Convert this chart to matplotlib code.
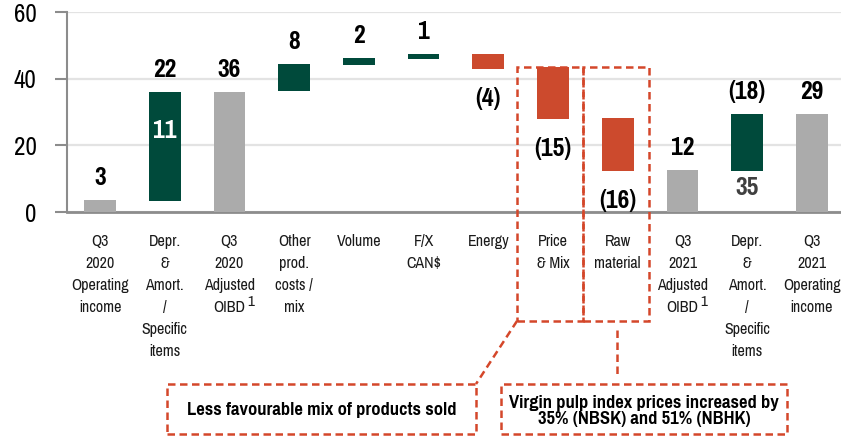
import matplotlib
matplotlib.use("Agg")
import matplotlib.pyplot as plt
from matplotlib.patches import Rectangle
from matplotlib.lines import Line2D
import matplotlib.transforms as mtransforms
from matplotlib import font_manager

names = {f.name for f in font_manager.fontManager.ttflist}
FONT = "Liberation Sans"
for cand in ["Liberation Sans Narrow", "Arial Narrow", "Pragati Narrow", "PT Sans Narrow",
             "Roboto Condensed", "Archivo Narrow"]:
    if cand in names:
        FONT = cand
        break
plt.rcParams['font.family'] = [FONT, 'DejaVu Sans']

# ---------------- data ----------------
categories = ["Q3\n2020\nOperating\nincome", "Depr.\n&\nAmort.\n/\nSpecific\nitems",
              "Q3\n2020\nAdjusted\nOIBD", "Other\nprod.\ncosts /\nmix", "Volume",
              "F/X\nCAN$", "Energy", "Price\n& Mix", "Raw\nmaterial",
              "Q3\n2021\nAdjusted\nOIBD", "Depr.\n&\nAmort.\n/\nSpecific\nitems",
              "Q3\n2021\nOperating\nincome"]
bar_bottom = [0, 3.3, 0, 36.4, 44.1, 45.9, 42.9, 27.9, 12.3, 0, 12.3, 0]
bar_top = [3.6, 36.0, 36.0, 44.4, 46.2, 47.4, 47.4, 43.6, 28.2, 12.6, 29.4, 29.4]
bar_kind = ["total", "up", "total", "up", "up", "up", "down", "down", "down",
            "total", "up", "total"]
value_labels = ["3", "22", "36", "8", "2", "1", "(4)", "(15)", "(16)", "12", "(18)", "29"]
label_side = ["above", "above", "above", "above", "above", "above", "below", "below",
              "below", "above", "above", "above"]
inner_label = {1: ("11", 24.6, "white")}
below_label = {10: ("35", "#404040")}
footnote_idx = [2, 9]
yticks = [0, 20, 40, 60]
note_left = "Less favourable mix of products sold"
note_right = "Virgin pulp index prices increased by\n35% (NBSK) and 51% (NBHK)"

colors = {"total": "#ABABAB", "up": "#004A3B", "down": "#CC4A2D"}
RED = "#D4472A"

W, H = 841, 436
fig = plt.figure(figsize=(W / 100, H / 100), dpi=100)
ax = fig.add_axes([67 / W, 1 - 212 / H, 1 - 67 / W, 200 / H])

x = list(range(len(categories)))
heights = [t - b for t, b in zip(bar_top, bar_bottom)]
ax.bar(x, heights, bottom=bar_bottom, width=0.49,
       color=[colors[k] for k in bar_kind], zorder=3)

ax.set_xlim(-0.51, 11.45)
ax.set_ylim(0, 60)
ax.set_yticks(yticks)
ax.set_yticklabels([str(v) for v in yticks], fontsize=19.5)
ax.set_xticks([])
ax.grid(axis="y", color="#E3E3E3", linewidth=1.6, zorder=0)
for s in ["top", "right"]:
    ax.spines[s].set_visible(False)
ax.spines["left"].set_color("#8C8C8C")
ax.spines["left"].set_linewidth(1.5)
ax.spines["bottom"].set_color("#8C8C8C")
ax.spines["bottom"].set_linewidth(2)
ax.tick_params(axis="y", length=9, width=1.5, color="#8C8C8C", pad=13, direction="out")

# value labels
VFS = 20
for i, (lab, side) in enumerate(zip(value_labels, label_side)):
    if side == "above":
        ax.annotate(lab, (i, bar_top[i]), xytext=(0, 16), textcoords="offset points",
                    ha="center", va="center", fontsize=VFS, fontweight="bold", color="black")
    else:
        ax.annotate(lab, (i, bar_bottom[i]), xytext=(0, -21), textcoords="offset points",
                    ha="center", va="center", fontsize=VFS, fontweight="bold", color="black")
for i, (lab, yv, c) in inner_label.items():
    ax.text(i, yv, lab, ha="center", va="center", fontsize=VFS, fontweight="bold", color=c, zorder=4)
for i, (lab, c) in below_label.items():
    ax.annotate(lab, (i, bar_bottom[i]), xytext=(0, -12), textcoords="offset points",
                ha="center", va="center", fontsize=VFS, fontweight="bold", color=c)

# category labels, one text per line
bt = mtransforms.blended_transform_factory(ax.transData, fig.transFigure)
renderer = fig.canvas.get_renderer()
for i, c in enumerate(categories):
    lines = c.split("\n")
    for k, line in enumerate(lines):
        t = fig.text(i, 1 - (246 + 22 * k) / H, line, transform=bt, ha="center",
                     va="baseline", fontsize=12.5, color="#1a1a1a")
        if i in footnote_idx and k == len(lines) - 1:
            bb = t.get_window_extent(renderer=renderer)
            fig.text((bb.x1 + 2) / W, 1 - 295.5 / H, "1", ha="left", va="top",
                     fontsize=12, color="#1a1a1a")

# dashed annotation boxes (figure pixel geometry)
def fx(px):
    return px / W

def fy(py):
    return 1 - py / H

dash = dict(edgecolor=RED, facecolor="none", linewidth=1.8, linestyle=(0, (3, 1.8)),
            transform=fig.transFigure, clip_on=False, zorder=10)
for x0, x1 in [(517, 583), (583, 649)]:
    fig.add_artist(Rectangle((fx(x0), fy(321)), fx(x1) - fx(x0), fy(67) - fy(321), **dash))
fig.add_artist(Rectangle((fx(167), fy(434)), fx(476) - fx(167), fy(384) - fy(434), **dash))
fig.add_artist(Rectangle((fx(501), fy(434)), fx(787) - fx(501), fy(384) - fy(434), **dash))
fig.add_artist(Line2D([fx(517), fx(476)], [fy(321), fy(384)], color=RED, linewidth=1.8,
                      linestyle=(0, (3, 1.8)), transform=fig.transFigure))
fig.add_artist(Line2D([fx(617), fx(617)], [fy(330), fy(374)], color=RED, linewidth=1.8,
                      linestyle=(0, (3, 1.8)), transform=fig.transFigure))

fig.text(fx(322), fy(410), note_left, ha="center", va="center", fontsize=14.5,
         fontweight="bold", color="black")
fig.text(fx(644), fy(411), note_right, ha="center", va="center", fontsize=14.5,
         fontweight="bold", color="black", linespacing=0.95)

fig.savefig("out.png", dpi=100)
